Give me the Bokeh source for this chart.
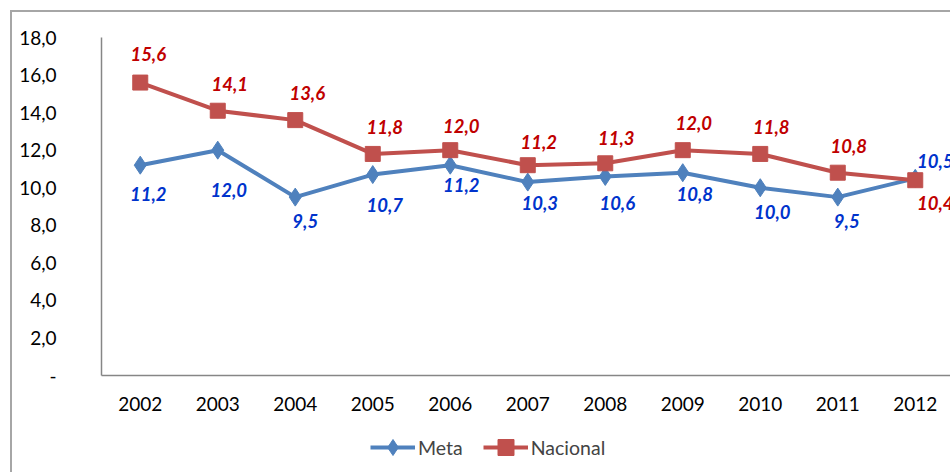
from bokeh.plotting import figure
from bokeh.models import Range1d, FixedTicker, Legend, LegendItem, ColumnDataSource
from bokeh.core.properties import value
from bokeh.embed import file_html
from bokeh.resources import INLINE

years = ["2002", "2003", "2004", "2005", "2006", "2007", "2008", "2009", "2010", "2011", "2012"]
meta = [11.2, 12.0, 9.5, 10.7, 11.2, 10.3, 10.6, 10.8, 10.0, 9.5, 10.5]
nacional = [15.6, 14.1, 13.6, 11.8, 12.0, 11.2, 11.3, 12.0, 11.8, 10.8, 10.4]
y_ticks = [0, 2, 4, 6, 8, 10, 12, 14, 16, 18]
y_tick_labels = ["-", "2,0", "4,0", "6,0", "8,0", "10,0", "12,0", "14,0", "16,0", "18,0"]

# label placement (screen px offsets, styling only)
meta_dx = [8, 11, 10, 12, 11, 12, 12, 12, 12, 9, 20]
meta_dy = [29, 40, 24, 30, 20, 21, 27, 21, 24, 24, -17]
nac_dx = [8, 12, 12, 12, 11, 11, 11, 11, 11, 11, 20]
nac_dy = [-29, -27, -27, -27, -24, -23, -25, -27, -27, -27, 23]

FONT = "Lato"
BLUE = "#4F81BD"
RED = "#C0504D"
GRAY = "#A6A6A6"

# page geometry (pixels) of the plotting area
W, H = 950, 472
PLOT_LEFT, PLOT_TOP, PLOT_BOTTOM = 101, 37, 375
CAT_W = 77.5
Y_MAX = 18
py = (PLOT_BOTTOM - PLOT_TOP) / Y_MAX
x0 = -0.5 - PLOT_LEFT / CAT_W
x1 = x0 + W / CAT_W
y1 = Y_MAX + PLOT_TOP / py
y0 = -(H - PLOT_BOTTOM) / py

xs = list(range(len(years)))
src_m = ColumnDataSource(dict(x=xs, y=meta, t=[f"{v:.1f}".replace(".", ",") for v in meta], dx=meta_dx, dy=meta_dy))
src_n = ColumnDataSource(dict(x=xs, y=nacional, t=[f"{v:.1f}".replace(".", ",") for v in nacional], dx=nac_dx, dy=nac_dy))

p = figure(width=W, height=H, output_backend="svg", toolbar_location=None,
           x_range=Range1d(x0, x1), y_range=Range1d(y0, y1),
           min_border_left=0, min_border_right=0, min_border_top=0, min_border_bottom=0)
p.outline_line_color = None
p.xgrid.visible = False
p.ygrid.visible = False
p.background_fill_alpha = 0
p.border_fill_alpha = 0
# outer chart-area border (left and top edges)
p.styles = {
    "background-image": f"linear-gradient({GRAY}, {GRAY}), linear-gradient({GRAY}, {GRAY})",
    "background-size": "2px 100%, 100% 2px",
    "background-position": "10px 10px, 10px 10px",
    "background-repeat": "no-repeat",
}

for ax in (p.xaxis[0], p.yaxis[0]):
    ax.axis_line_color = "#868686"
    ax.axis_line_width = 1.5
    ax.major_tick_line_color = None
    ax.minor_tick_line_color = None
    ax.major_label_text_font = FONT
    ax.major_label_text_font_size = "19px"
    ax.major_label_text_color = "#000000"

p.xaxis.fixed_location = 0
p.xaxis.bounds = (-0.5, x1)
p.xaxis.ticker = FixedTicker(ticks=xs)
p.xaxis.major_label_overrides = {i: y for i, y in enumerate(years)}
p.xaxis.major_label_standoff = 15
p.yaxis.fixed_location = -0.5
p.yaxis.bounds = (0, Y_MAX)
p.yaxis.ticker = FixedTicker(ticks=y_ticks)
p.yaxis.major_label_overrides = {t: l for t, l in zip(y_ticks, y_tick_labels)}
p.yaxis.major_label_standoff = 39

lm = p.line("x", "y", source=src_m, line_color=BLUE, line_width=4)
sm = p.scatter("x", "y", source=src_m, marker="diamond", size=18, fill_color=BLUE, line_color=BLUE)
ln = p.line("x", "y", source=src_n, line_color=RED, line_width=4)
sn = p.scatter("x", "y", source=src_n, marker="square", size=15, fill_color=RED, line_color=RED)

p.text("x", "y", text="t", source=src_m, x_offset="dx", y_offset="dy",
       text_font=value(FONT), text_font_size="18.5px", text_font_style="bold italic",
       text_color="#0033CC", text_align="center", text_baseline="middle")
p.text("x", "y", text="t", source=src_n, x_offset="dx", y_offset="dy",
       text_font=value(FONT), text_font_size="18.5px", text_font_style="bold italic",
       text_color="#C00000", text_align="center", text_baseline="middle")

legend = Legend(items=[LegendItem(label="Meta", renderers=[lm, sm]),
                       LegendItem(label="Nacional", renderers=[ln, sn])],
                orientation="horizontal", location=(370, 5),
                label_text_font=FONT, label_text_font_size="19.5px",
                glyph_width=45, glyph_height=40, label_standoff=3, spacing=20,
                padding=0, margin=0, border_line_color=None, background_fill_alpha=0)
p.add_layout(legend, "center")

open("out.html", "w").write(file_html(p, INLINE))
